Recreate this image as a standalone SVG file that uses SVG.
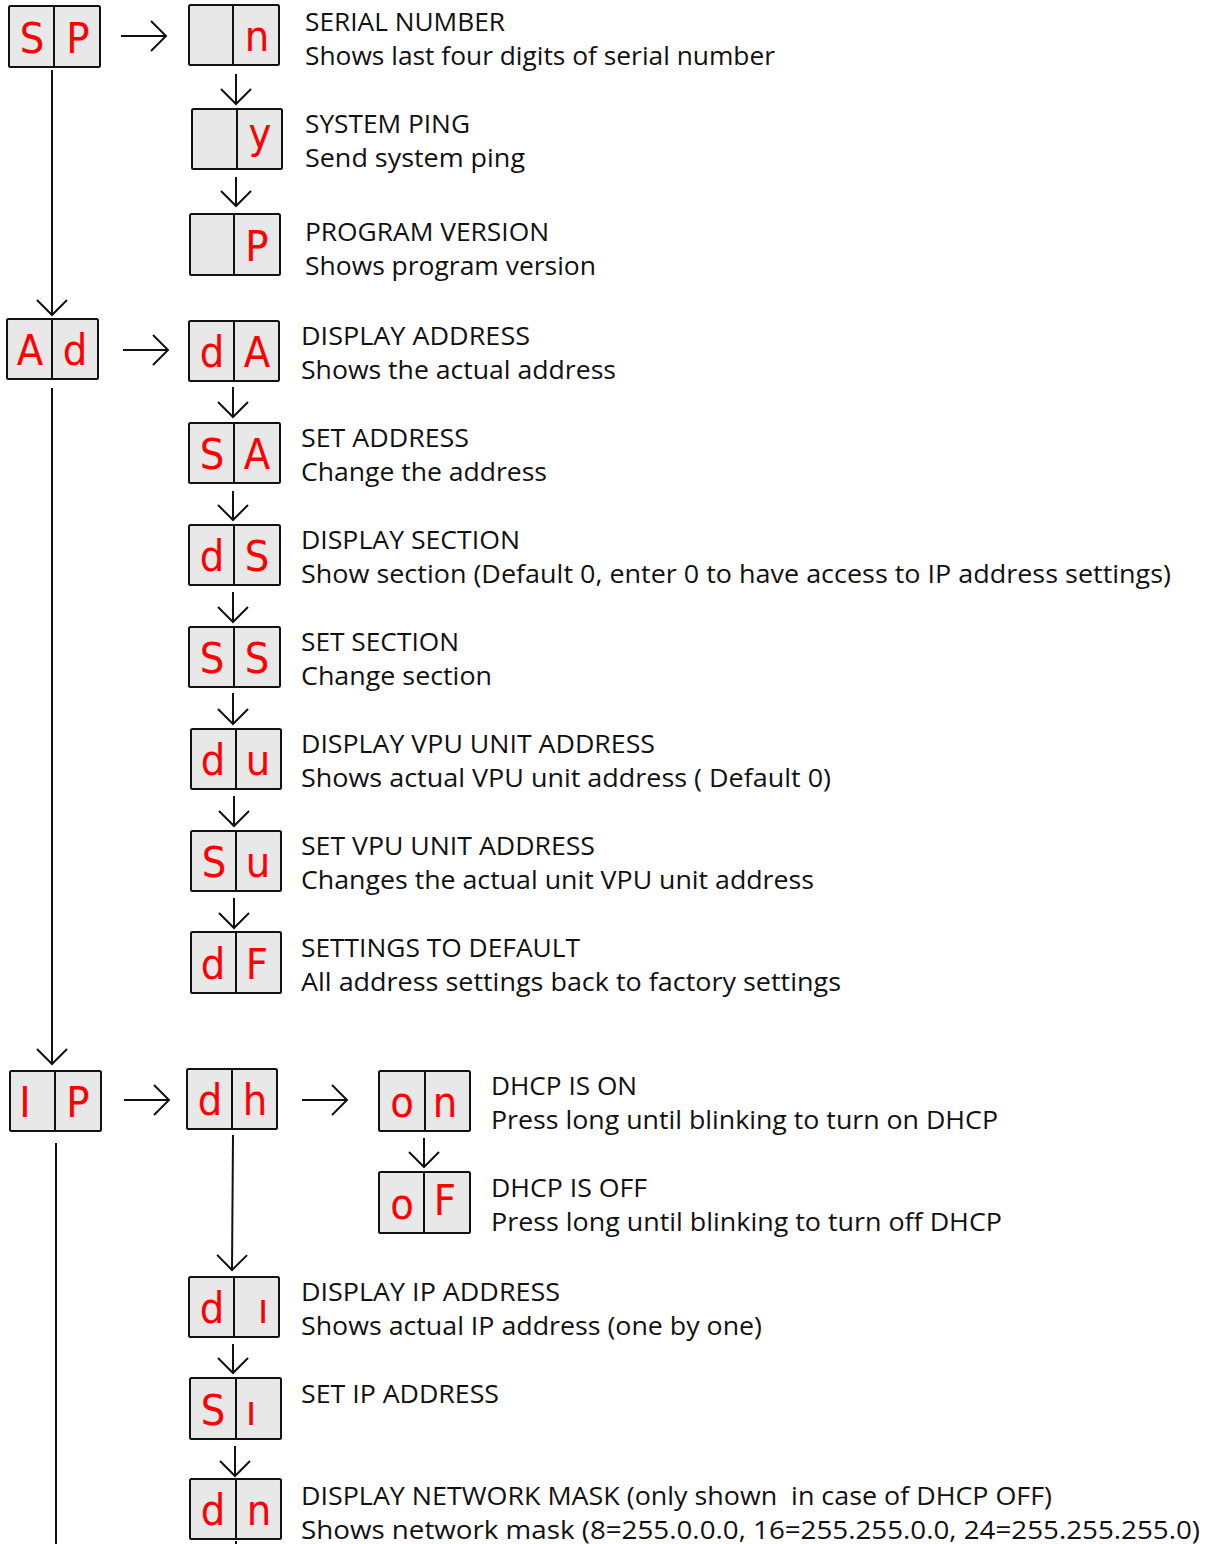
<svg xmlns="http://www.w3.org/2000/svg" width="1213" height="1544" viewBox="0 0 1213 1544">
<style>
.box{fill:#e8e8e8;stroke:#111;stroke-width:2}
.div{stroke:#111;stroke-width:2}
.seg{font-family:"DejaVu Sans",sans-serif;font-stretch:condensed;font-size:43px;fill:#ff0000;text-anchor:middle}
.t{font-family:"Open Sans","Noto Sans",sans-serif;font-size:26px;fill:#111}
.c{stroke:#111;stroke-width:2;fill:none}
</style>
<defs>
<marker id="ah" viewBox="0 0 20 32" refX="16" refY="16" markerWidth="20" markerHeight="32" markerUnits="userSpaceOnUse" orient="auto">
<path d="M1,1 L16,16 L1,31" fill="none" stroke="#111" stroke-width="2"/>
</marker>
</defs>
<rect width="1213" height="1544" fill="#fff"/>

<g id="connectors">
<line class="c" x1="121" y1="36" x2="166" y2="36" marker-end="url(#ah)"/>
<line class="c" x1="236" y1="74" x2="236" y2="104" marker-end="url(#ah)"/>
<line class="c" x1="236" y1="177" x2="236" y2="206" marker-end="url(#ah)"/>
<line class="c" x1="52" y1="70" x2="52" y2="315" marker-end="url(#ah)"/>
<line class="c" x1="123" y1="350" x2="168" y2="350" marker-end="url(#ah)"/>
<line class="c" x1="233" y1="387" x2="233" y2="417" marker-end="url(#ah)"/>
<line class="c" x1="233" y1="491" x2="233" y2="520" marker-end="url(#ah)"/>
<line class="c" x1="233" y1="592" x2="233" y2="622" marker-end="url(#ah)"/>
<line class="c" x1="233" y1="693" x2="233" y2="724" marker-end="url(#ah)"/>
<line class="c" x1="234" y1="796" x2="234" y2="826" marker-end="url(#ah)"/>
<line class="c" x1="234" y1="898" x2="234" y2="928" marker-end="url(#ah)"/>
<line class="c" x1="52" y1="388" x2="52" y2="1064" marker-end="url(#ah)"/>
<line class="c" x1="124" y1="1100" x2="169" y2="1100" marker-end="url(#ah)"/>
<line class="c" x1="302" y1="1100" x2="347" y2="1100" marker-end="url(#ah)"/>
<line class="c" x1="424" y1="1138" x2="424" y2="1167" marker-end="url(#ah)"/>
<line class="c" x1="233" y1="1135" x2="232" y2="1270" marker-end="url(#ah)"/>
<line class="c" x1="233" y1="1344" x2="233" y2="1373" marker-end="url(#ah)"/>
<line class="c" x1="235" y1="1446" x2="235" y2="1476" marker-end="url(#ah)"/>
<line class="c" x1="236" y1="1541" x2="236" y2="1544"/>
<line class="c" x1="56" y1="1143" x2="56" y2="1544"/>
</g>

<g id="node-SP">
<rect class="box" x="9" y="6" width="91" height="61" rx="1.5"/>
<line class="div" x1="54" y1="6" x2="54" y2="67"/>
<text class="seg" x="32" y="53">S</text><text class="seg" x="78" y="53">P</text>
</g>
<g id="node-n">
<rect class="box" x="189" y="5" width="90" height="60" rx="1.5"/>
<line class="div" x1="233" y1="5" x2="233" y2="65"/>
<text class="seg" x="257" y="51">n</text>
<text class="t" x="305" y="31" textLength="200" lengthAdjust="spacingAndGlyphs">SERIAL NUMBER</text>
<text class="t" x="305" y="65" textLength="470" lengthAdjust="spacingAndGlyphs">Shows last four digits of serial number</text>
</g>
<g id="node-y">
<rect class="box" x="192" y="109" width="90" height="60" rx="1.5"/>
<line class="div" x1="237" y1="109" x2="237" y2="169"/>
<text class="seg" x="260" y="148">y</text>
<text class="t" x="305" y="133" textLength="165" lengthAdjust="spacingAndGlyphs">SYSTEM PING</text>
<text class="t" x="305" y="167" textLength="220" lengthAdjust="spacingAndGlyphs">Send system ping</text>
</g>
<g id="node-P">
<rect class="box" x="190" y="214" width="90" height="61" rx="1.5"/>
<line class="div" x1="234" y1="214" x2="234" y2="275"/>
<text class="seg" x="257" y="261">P</text>
<text class="t" x="305" y="241" textLength="244" lengthAdjust="spacingAndGlyphs">PROGRAM VERSION</text>
<text class="t" x="305" y="275" textLength="291" lengthAdjust="spacingAndGlyphs">Shows program version</text>
</g>

<g id="node-Ad">
<rect class="box" x="7" y="319" width="91" height="60" rx="1.5"/>
<line class="div" x1="52" y1="319" x2="52" y2="379"/>
<text class="seg" x="30" y="365">A</text><text class="seg" x="75" y="365">d</text>
</g>
<g id="node-dA">
<rect class="box" x="189" y="321" width="90" height="60" rx="1.5"/>
<line class="div" x1="234" y1="321" x2="234" y2="381"/>
<text class="seg" x="212" y="367">d</text><text class="seg" x="257" y="367">A</text>
<text class="t" x="301" y="345" textLength="229" lengthAdjust="spacingAndGlyphs">DISPLAY ADDRESS</text>
<text class="t" x="301" y="379" textLength="315" lengthAdjust="spacingAndGlyphs">Shows the actual address</text>
</g>
<g id="node-SA">
<rect class="box" x="189" y="423" width="91" height="60" rx="1.5"/>
<line class="div" x1="234" y1="423" x2="234" y2="483"/>
<text class="seg" x="212" y="469">S</text><text class="seg" x="257" y="469">A</text>
<text class="t" x="301" y="447" textLength="168" lengthAdjust="spacingAndGlyphs">SET ADDRESS</text>
<text class="t" x="301" y="481" textLength="246" lengthAdjust="spacingAndGlyphs">Change the address</text>
</g>
<g id="node-dS">
<rect class="box" x="189" y="525" width="91" height="60" rx="1.5"/>
<line class="div" x1="234" y1="525" x2="234" y2="585"/>
<text class="seg" x="212" y="571">d</text><text class="seg" x="257" y="571">S</text>
<text class="t" x="301" y="549" textLength="219" lengthAdjust="spacingAndGlyphs">DISPLAY SECTION</text>
<text class="t" x="301" y="583" textLength="870" lengthAdjust="spacingAndGlyphs">Show section (Default 0, enter 0 to have access to IP address settings)</text>
</g>
<g id="node-SS">
<rect class="box" x="189" y="627" width="91" height="60" rx="1.5"/>
<line class="div" x1="234" y1="627" x2="234" y2="687"/>
<text class="seg" x="212" y="673">S</text><text class="seg" x="257" y="673">S</text>
<text class="t" x="301" y="651" textLength="158" lengthAdjust="spacingAndGlyphs">SET SECTION</text>
<text class="t" x="301" y="685" textLength="191" lengthAdjust="spacingAndGlyphs">Change section</text>
</g>
<g id="node-du">
<rect class="box" x="191" y="729" width="90" height="60" rx="1.5"/>
<line class="div" x1="236" y1="729" x2="236" y2="789"/>
<text class="seg" x="213" y="775">d</text><text class="seg" x="258" y="775">u</text>
<text class="t" x="301" y="753" textLength="354" lengthAdjust="spacingAndGlyphs">DISPLAY VPU UNIT ADDRESS</text>
<text class="t" x="301" y="787" textLength="530" lengthAdjust="spacingAndGlyphs">Shows actual VPU unit address ( Default 0)</text>
</g>
<g id="node-Su">
<rect class="box" x="191" y="831" width="90" height="60" rx="1.5"/>
<line class="div" x1="236" y1="831" x2="236" y2="891"/>
<text class="seg" x="214" y="877">S</text><text class="seg" x="258" y="877">u</text>
<text class="t" x="301" y="855" textLength="294" lengthAdjust="spacingAndGlyphs">SET VPU UNIT ADDRESS</text>
<text class="t" x="301" y="889" textLength="513" lengthAdjust="spacingAndGlyphs">Changes the actual unit VPU unit address</text>
</g>
<g id="node-dF">
<rect class="box" x="191" y="932" width="90" height="61" rx="1.5"/>
<line class="div" x1="236" y1="932" x2="236" y2="993"/>
<text class="seg" x="213" y="979">d</text><text class="seg" x="257" y="979">F</text>
<text class="t" x="301" y="957" textLength="279" lengthAdjust="spacingAndGlyphs">SETTINGS TO DEFAULT</text>
<text class="t" x="301" y="991" textLength="540" lengthAdjust="spacingAndGlyphs">All address settings back to factory settings</text>
</g>

<g id="node-IP">
<rect class="box" x="10" y="1071" width="91" height="60" rx="1.5"/>
<line class="div" x1="55" y1="1071" x2="55" y2="1131"/>
<text class="seg" x="25" y="1117">I</text><text class="seg" x="78" y="1117">P</text>
</g>
<g id="node-dh">
<rect class="box" x="187" y="1069" width="90" height="60" rx="1.5"/>
<line class="div" x1="232" y1="1069" x2="232" y2="1129"/>
<text class="seg" x="210" y="1115">d</text><text class="seg" x="255" y="1115">h</text>
</g>
<g id="node-on">
<rect class="box" x="379" y="1071" width="91" height="60" rx="1.5"/>
<line class="div" x1="425" y1="1071" x2="425" y2="1131"/>
<text class="seg" x="402" y="1117">o</text><text class="seg" x="445" y="1117">n</text>
<text class="t" x="491" y="1095" textLength="146" lengthAdjust="spacingAndGlyphs">DHCP IS ON</text>
<text class="t" x="491" y="1129" textLength="507" lengthAdjust="spacingAndGlyphs">Press long until blinking to turn on DHCP</text>
</g>
<g id="node-oF">
<rect class="box" x="379" y="1172" width="91" height="61" rx="1.5"/>
<line class="div" x1="424" y1="1172" x2="424" y2="1233"/>
<text class="seg" x="402" y="1219">o</text><text class="seg" x="445" y="1215">F</text>
<text class="t" x="491" y="1197" textLength="156" lengthAdjust="spacingAndGlyphs">DHCP IS OFF</text>
<text class="t" x="491" y="1231" textLength="511" lengthAdjust="spacingAndGlyphs">Press long until blinking to turn off DHCP</text>
</g>
<g id="node-di">
<rect class="box" x="189" y="1277" width="90" height="60" rx="1.5"/>
<line class="div" x1="234" y1="1277" x2="234" y2="1337"/>
<text class="seg" x="212" y="1323">d</text><text class="seg" x="263" y="1323">ı</text>
<text class="t" x="301" y="1301" textLength="259" lengthAdjust="spacingAndGlyphs">DISPLAY IP ADDRESS</text>
<text class="t" x="301" y="1335" textLength="461" lengthAdjust="spacingAndGlyphs">Shows actual IP address (one by one)</text>
</g>
<g id="node-Si">
<rect class="box" x="190" y="1378" width="91" height="61" rx="1.5"/>
<line class="div" x1="236" y1="1378" x2="236" y2="1439"/>
<text class="seg" x="213" y="1425">S</text><text class="seg" x="251" y="1425">ı</text>
<text class="t" x="301" y="1403" textLength="198" lengthAdjust="spacingAndGlyphs">SET IP ADDRESS</text>
</g>
<g id="node-dn">
<rect class="box" x="190" y="1479" width="91" height="60" rx="1.5"/>
<line class="div" x1="236" y1="1479" x2="236" y2="1539"/>
<text class="seg" x="213" y="1525">d</text><text class="seg" x="259" y="1525">n</text>
<text class="t" x="301" y="1505" textLength="751" lengthAdjust="spacingAndGlyphs" xml:space="preserve">DISPLAY NETWORK MASK (only shown  in case of DHCP OFF)</text>
<text class="t" x="301" y="1539" textLength="899" lengthAdjust="spacingAndGlyphs">Shows network mask (8=255.0.0.0, 16=255.255.0.0, 24=255.255.255.0)</text>
</g>
</svg>
